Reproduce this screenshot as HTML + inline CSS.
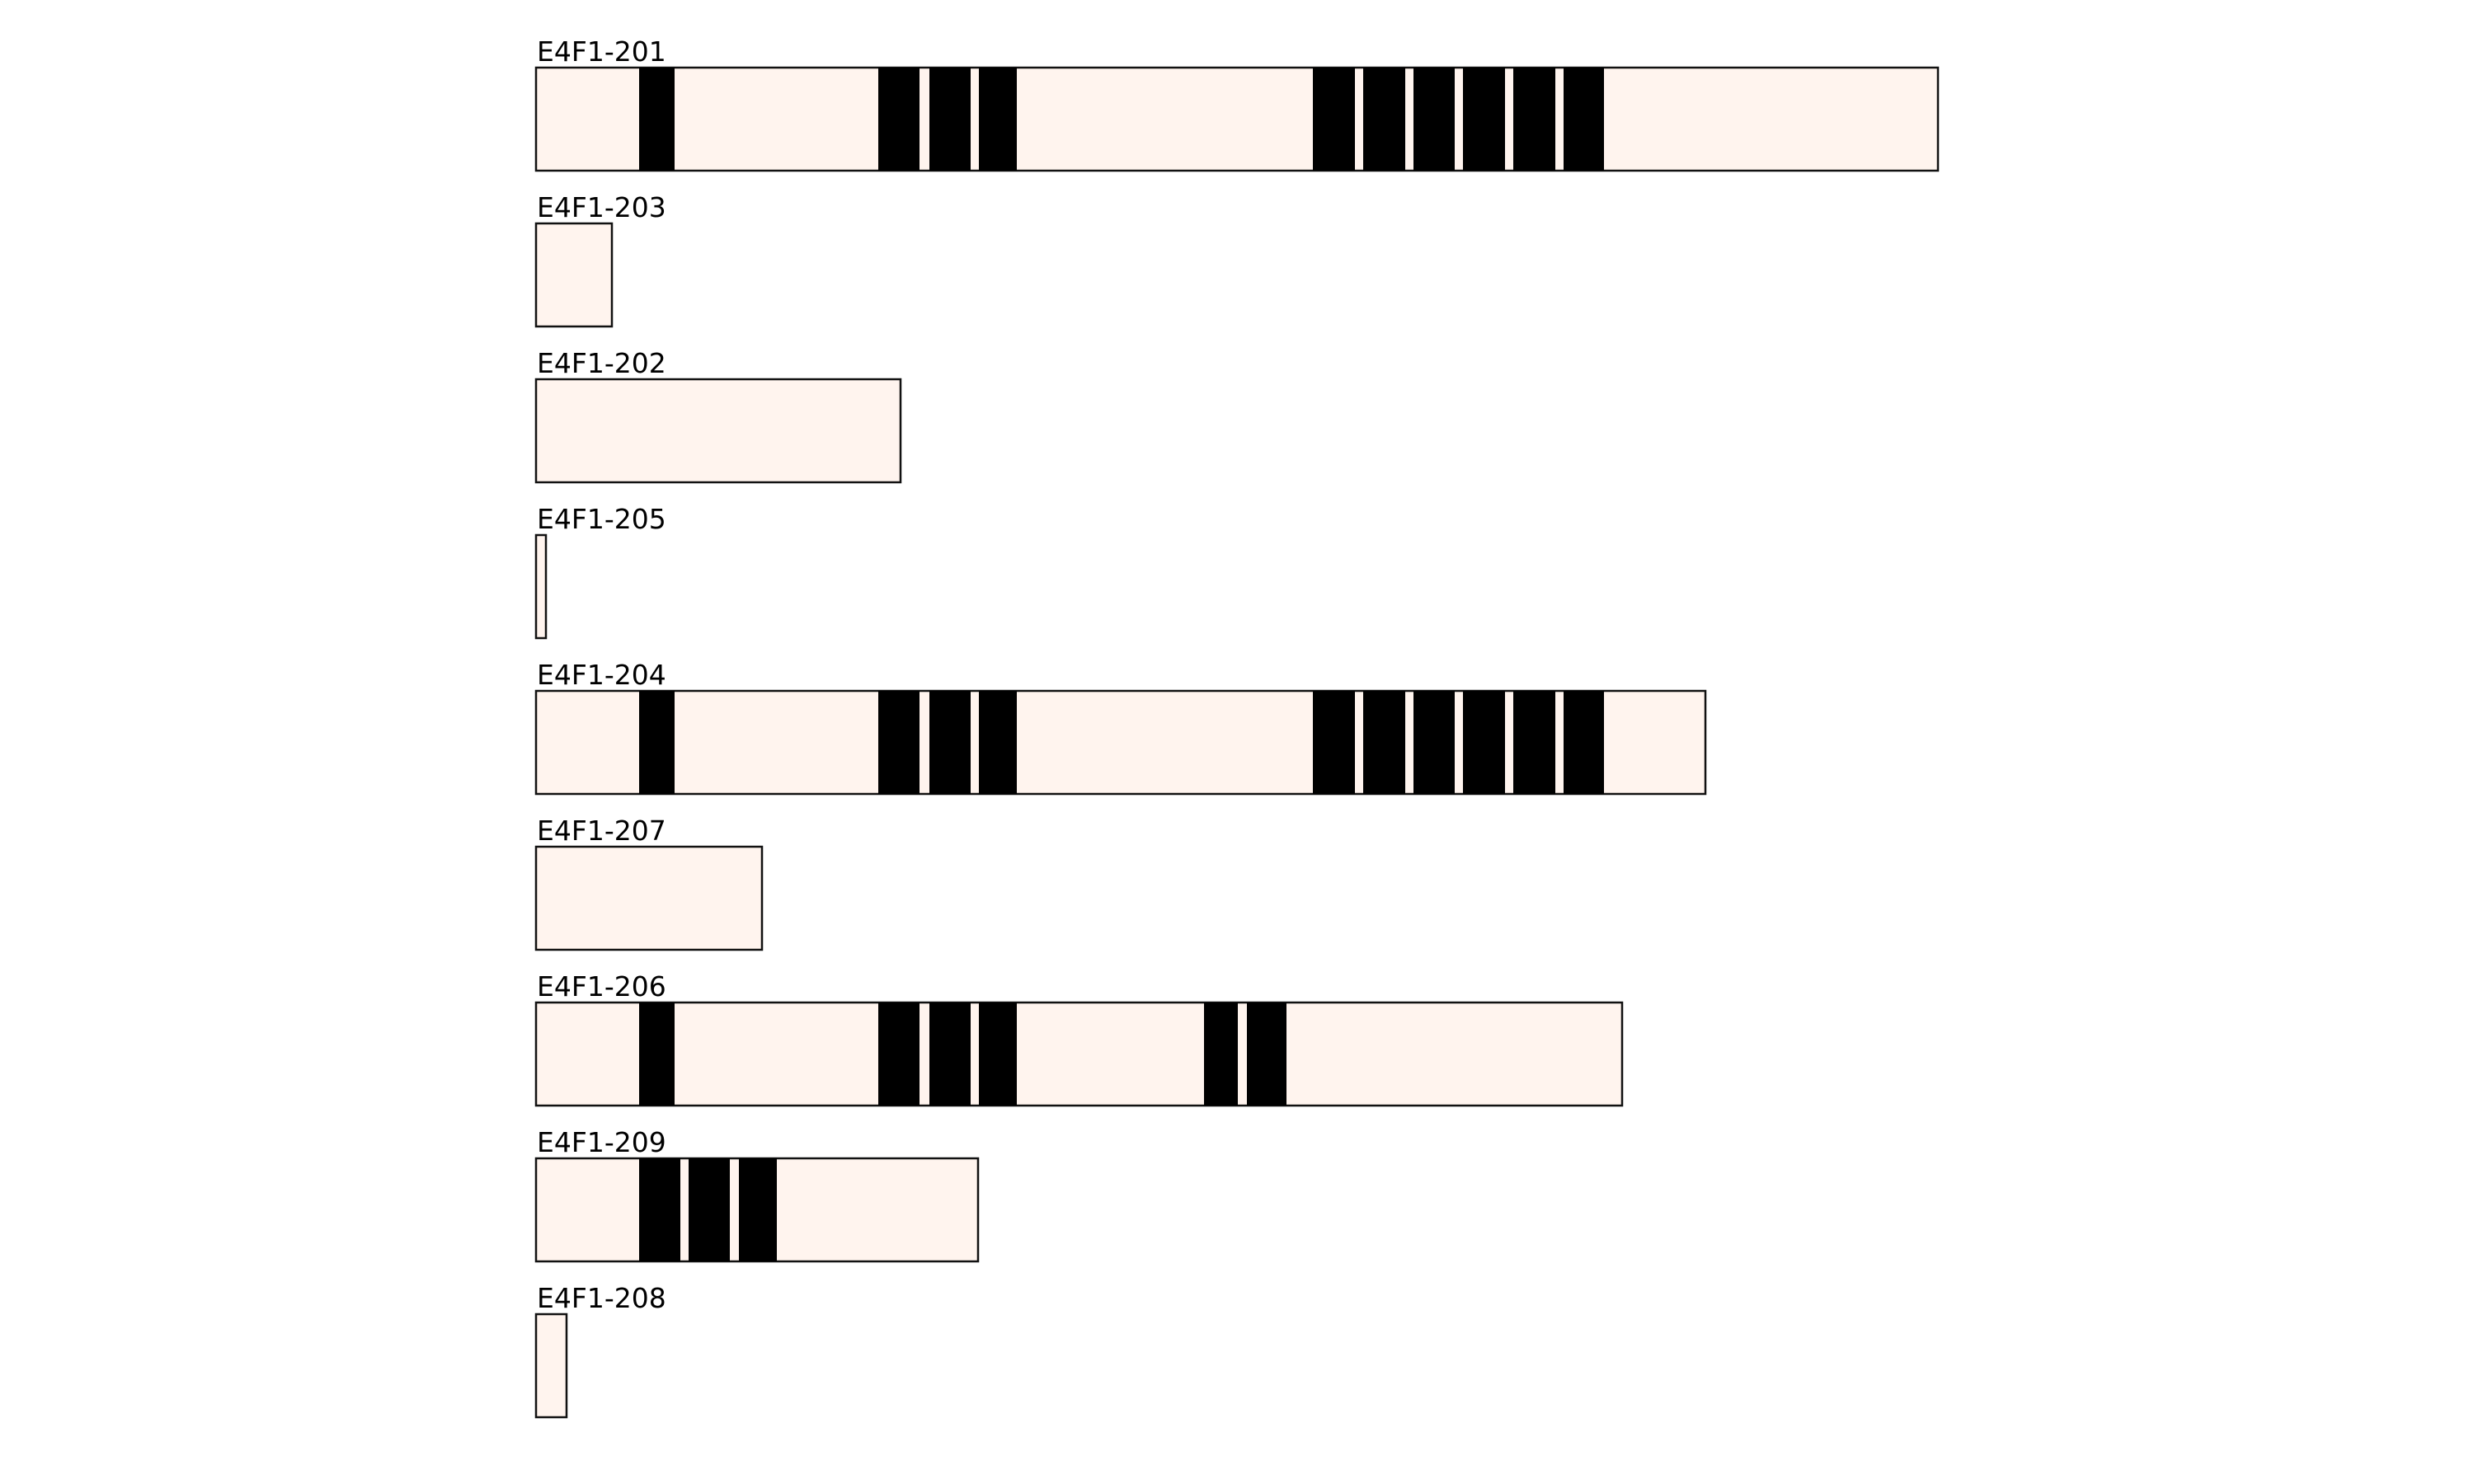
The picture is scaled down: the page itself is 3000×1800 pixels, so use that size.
<!DOCTYPE html>
<html><head><meta charset="utf-8"><style>
html,body{margin:0;padding:0;background:#fff;}
svg{display:block;}
text{font-family:"DejaVu Sans","Liberation Sans",sans-serif;font-size:33px;fill:#000;}
.b{fill:#fff4ee;stroke:#111;stroke-width:2.5;}
.e{fill:#000;}
</style></head><body>
<svg width="3000" height="1800" viewBox="0 0 3000 1800" xmlns="http://www.w3.org/2000/svg">
<!-- 201 -->
<g transform="translate(0,82)">
<text x="651" y="-8">E4F1-201</text>
<rect class="b" x="650" y="0" width="1700" height="125"/>
<rect class="e" x="775" y="0" width="43" height="125"/>
<rect class="e" x="1065" y="0" width="50" height="125"/>
<rect class="e" x="1127" y="0" width="50" height="125"/>
<rect class="e" x="1187" y="0" width="46" height="125"/>
<rect class="e" x="1592" y="0" width="51" height="125"/>
<rect class="e" x="1653" y="0" width="51" height="125"/>
<rect class="e" x="1714" y="0" width="50" height="125"/>
<rect class="e" x="1774" y="0" width="51" height="125"/>
<rect class="e" x="1835" y="0" width="51" height="125"/>
<rect class="e" x="1896" y="0" width="49" height="125"/>
</g>
<!-- 203 -->
<g transform="translate(0,271)">
<text x="651" y="-8">E4F1-203</text>
<rect class="b" x="650" y="0" width="92" height="125"/>
</g>
<!-- 202 -->
<g transform="translate(0,460)">
<text x="651" y="-8">E4F1-202</text>
<rect class="b" x="650" y="0" width="442" height="125"/>
</g>
<!-- 205 -->
<g transform="translate(0,649)">
<text x="651" y="-8">E4F1-205</text>
<rect class="b" x="650" y="0" width="12" height="125"/>
</g>
<!-- 204 -->
<g transform="translate(0,838)">
<text x="651" y="-8">E4F1-204</text>
<rect class="b" x="650" y="0" width="1418" height="125"/>
<rect class="e" x="775" y="0" width="43" height="125"/>
<rect class="e" x="1065" y="0" width="50" height="125"/>
<rect class="e" x="1127" y="0" width="50" height="125"/>
<rect class="e" x="1187" y="0" width="46" height="125"/>
<rect class="e" x="1592" y="0" width="51" height="125"/>
<rect class="e" x="1653" y="0" width="51" height="125"/>
<rect class="e" x="1714" y="0" width="50" height="125"/>
<rect class="e" x="1774" y="0" width="51" height="125"/>
<rect class="e" x="1835" y="0" width="51" height="125"/>
<rect class="e" x="1896" y="0" width="49" height="125"/>
</g>
<!-- 207 -->
<g transform="translate(0,1027)">
<text x="651" y="-8">E4F1-207</text>
<rect class="b" x="650" y="0" width="274" height="125"/>
</g>
<!-- 206 -->
<g transform="translate(0,1216)">
<text x="651" y="-8">E4F1-206</text>
<rect class="b" x="650" y="0" width="1317" height="125"/>
<rect class="e" x="775" y="0" width="43" height="125"/>
<rect class="e" x="1065" y="0" width="50" height="125"/>
<rect class="e" x="1127" y="0" width="50" height="125"/>
<rect class="e" x="1187" y="0" width="46" height="125"/>
<rect class="e" x="1460" y="0" width="41" height="125"/>
<rect class="e" x="1512" y="0" width="48" height="125"/>
</g>
<!-- 209 -->
<g transform="translate(0,1405)">
<text x="651" y="-8">E4F1-209</text>
<rect class="b" x="650" y="0" width="536" height="125"/>
<rect class="e" x="775" y="0" width="50" height="125"/>
<rect class="e" x="835" y="0" width="50" height="125"/>
<rect class="e" x="896" y="0" width="46" height="125"/>
</g>
<!-- 208 -->
<g transform="translate(0,1594)">
<text x="651" y="-8">E4F1-208</text>
<rect class="b" x="650" y="0" width="37" height="125"/>
</g>
</svg>
</body></html>
